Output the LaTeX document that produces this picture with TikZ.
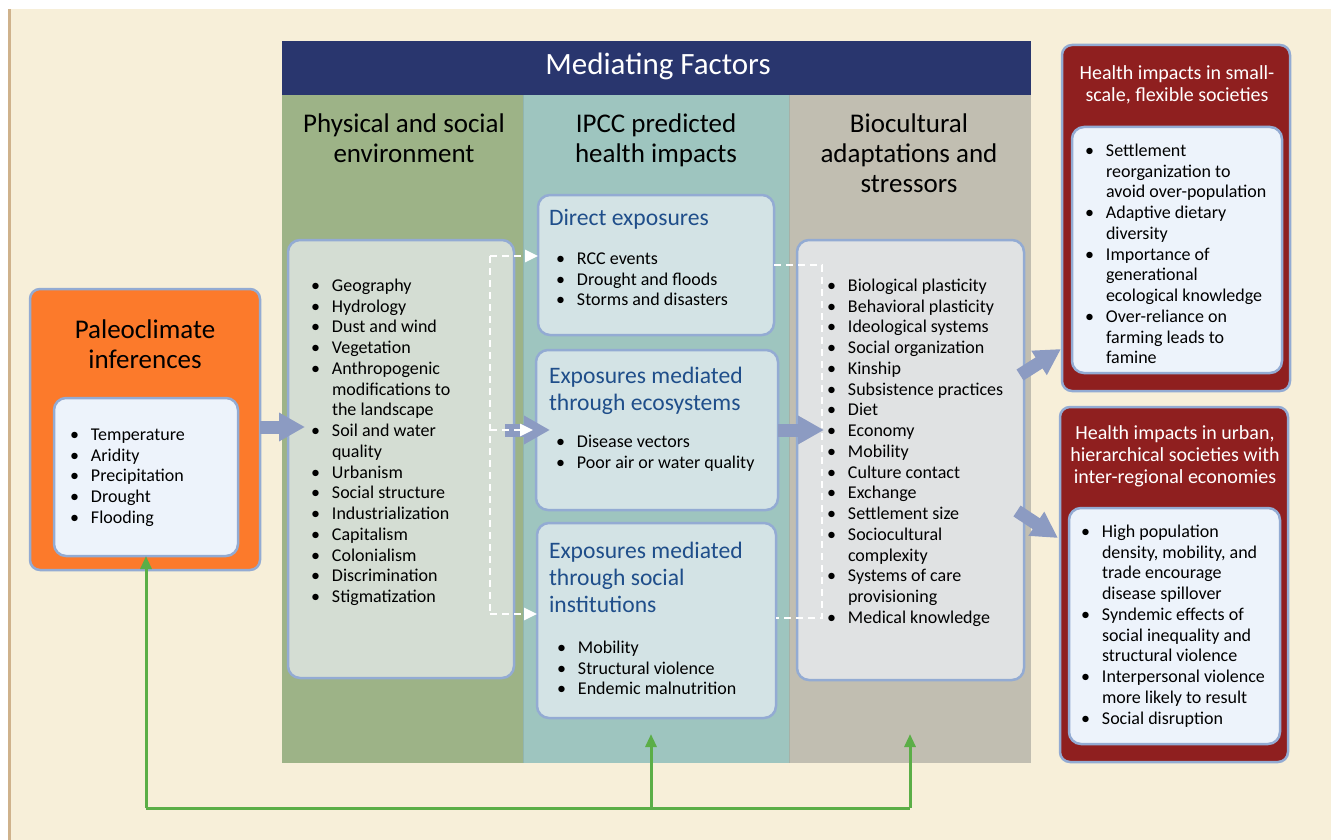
\documentclass[tikz,border=0pt]{standalone}
\usepackage{fontspec}
\setmainfont{Carlito}
\usetikzlibrary{arrows.meta}
\definecolor{bgcream}{HTML}{F7EFD9}
\definecolor{tanline}{HTML}{CFB28C}
\definecolor{navy}{HTML}{29366E}
\definecolor{colgreen}{HTML}{9DB387}
\definecolor{colteal}{HTML}{9EC5BF}
\definecolor{colgray}{HTML}{C1BEB1}
\definecolor{orangebox}{HTML}{FC7A2B}
\definecolor{bordblue}{HTML}{93ABD3}
\definecolor{innerlight}{HTML}{EDF3FB}
\definecolor{greeninner}{HTML}{D4DDD3}
\definecolor{tealinner}{HTML}{D3E3E5}
\definecolor{grayinner}{HTML}{E0E2E3}
\definecolor{titleblue}{HTML}{1F4E8A}
\definecolor{redbox}{HTML}{8F1F1F}
\definecolor{arrowblue}{HTML}{8C9BC2}
\definecolor{greenline}{HTML}{5BAE47}
\newcommand{\fsz}[2]{\fontsize{#1}{#2}\selectfont}
\newcommand{\bl}{\makebox[21pt][l]{\textbullet}}
\newcommand{\cl}{\hspace*{21pt}}
\newcommand{\fst}{\rule{0pt}{1em}}
\tikzset{
  every node/.style={inner sep=0pt, outer sep=0pt},
  colbox/.style={anchor=north west, draw=none},
  rbox/.style={anchor=north west, draw=bordblue, line width=2.5pt, rounded corners=12pt},
  lst/.style={anchor=north west, align=left, font=\fsz{18}{20.75}, text=black},
  hdr/.style={anchor=north, align=center, font=\fsz{27}{30}, text=black},
  bluet/.style={anchor=north west, align=left, font=\fsz{23.6}{27}, text=titleblue},
  redt/.style={anchor=north, align=center, font=\fsz{20}{22}, text=white},
  fatarrow/.style={draw=arrowblue, line width=13pt, -{Triangle[length=26pt,width=27pt]}},
  wdash/.style={draw=white, line width=2.7pt, dash pattern=on 7pt off 5pt},
  wtip/.style={-{Triangle[length=13pt,width=12pt,fill=white]}},
  garrow/.style={draw=greenline, line width=3pt},
  gtip/.style={-{Triangle[length=13pt,width=11pt]}}
}
\begin{document}
\begin{tikzpicture}[x=1pt,y=-1pt]
\useasboundingbox (0,0) rectangle (1331,840);
\fill[white] (0,0) rectangle (1331,840);
\fill[bgcream] (10,9) rectangle (1331,840);
\fill[tanline] (8,9) rectangle (10.5,840);

% columns
\node[colbox, fill=colgreen, minimum width=241, minimum height=668] (colA) at (282,95) {};
\node[colbox, fill=colteal, minimum width=266, minimum height=668] (colB) at (523,95) {};
\node[colbox, fill=colgray, minimum width=242, minimum height=668] (colC) at (789,95) {};
\draw[draw=colteal!80!black, line width=0.6pt, opacity=0.4] (colB.north west) -- (colB.south west);
\draw[draw=colteal!80!black, line width=0.6pt, opacity=0.4] (colC.north west) -- (colC.south west);
\node[colbox, fill=navy, minimum width=749, minimum height=54] (med) at (282,41) {};
\node[anchor=north, font=\fsz{31}{33}, text=white] (medt) at (658,44) {\fst Mediating Factors};

% column headers
\node[hdr] (hA) at (404,106) {\fst Physical and social\\environment};
\node[hdr] (hB) at (656,106) {\fst IPCC predicted\\health impacts};
\node[hdr] (hC) at (909,106) {\fst Biocultural\\adaptations and\\stressors};

% paleoclimate
\node[rbox, fill=orangebox, rounded corners=10pt, minimum width=230, minimum height=281] (paleo) at (30,289) {};
\node[hdr] (paleot) at (145,311) {\fst Paleoclimate\\inferences};
\node[rbox, fill=innerlight, minimum width=184, minimum height=158] (palin) at (54,398) {};
\node[lst] (pall) at (70,422.3) {\fst\bl Temperature\\\bl Aridity\\\bl Precipitation\\\bl Drought\\\bl Flooding};

% physical and social environment
\node[rbox, fill=greeninner, minimum width=226, minimum height=438] (envbox) at (288,240) {};
\node[lst] (envl) at (311,273.3) {\fst\bl Geography\\\bl Hydrology\\\bl Dust and wind\\\bl Vegetation\\\bl Anthropogenic\\\cl modifications to\\\cl the landscape\\\bl Soil and water\\\cl quality\\\bl Urbanism\\\bl Social structure\\\bl Industrialization\\\bl Capitalism\\\bl Colonialism\\\bl Discrimination\\\bl Stigmatization};

% IPCC boxes
\node[rbox, fill=tealinner, minimum width=236, minimum height=140] (direct) at (538,195) {};
\node[bluet] (directt) at (549,202) {\fst Direct exposures};
\node[lst] (directl) at (556,246.3) {\fst\bl RCC events\\\bl Drought and floods\\\bl Storms and disasters};

\node[rbox, fill=tealinner, minimum width=242, minimum height=160] (eco) at (536,350) {};
\node[bluet] (ecot) at (549,360) {\fst Exposures mediated\\through ecosystems};
\node[lst] (ecol) at (556,429.3) {\fst\bl Disease vectors\\\bl Poor air or water quality};

\node[rbox, fill=tealinner, minimum width=239, minimum height=195] (soc) at (537,523) {};
\node[bluet] (soct) at (549,535) {\fst Exposures mediated\\through social\\institutions};
\node[lst] (socl) at (557,635.3) {\fst\bl Mobility\\\bl Structural violence\\\bl Endemic malnutrition};

% biocultural
\node[rbox, fill=grayinner, minimum width=227, minimum height=440] (bio) at (797,240) {};
\node[lst] (biol) at (827,273.3) {\fst\bl Biological plasticity\\\bl Behavioral plasticity\\\bl Ideological systems\\\bl Social organization\\\bl Kinship\\\bl Subsistence practices\\\bl Diet\\\bl Economy\\\bl Mobility\\\bl Culture contact\\\bl Exchange\\\bl Settlement size\\\bl Sociocultural\\\cl complexity\\\bl Systems of care\\\cl provisioning\\\bl Medical knowledge};

% red boxes
\node[rbox, fill=redbox, rounded corners=10pt, minimum width=228, minimum height=346] (small) at (1062,45) {};
\node[redt] (smallt) at (1177,60) {\fst Health impacts in small-\\scale, flexible societies};
\node[rbox, fill=innerlight, minimum width=210, minimum height=246] (smallin) at (1072,127) {};
\node[lst] (smalll) at (1085,138.3) {\fst\bl Settlement\\\cl reorganization to\\\cl avoid over-population\\\bl Adaptive dietary\\\cl diversity\\\bl Importance of\\\cl generational\\\cl ecological knowledge\\\bl Over-reliance on\\\cl farming leads to\\\cl famine};

\node[rbox, fill=redbox, rounded corners=10pt, minimum width=228, minimum height=355] (urban) at (1060,407) {};
\node[redt] (urbant) at (1175,419) {\fst Health impacts in urban,\\hierarchical societies with\\inter-regional economies};
\node[rbox, fill=innerlight, minimum width=211, minimum height=236] (urbanin) at (1069,508) {};
\node[lst] (urbanl) at (1081,519.3) {\fst\bl High population\\\cl density, mobility, and\\\cl trade encourage\\\cl disease spillover\\\bl Syndemic effects of\\\cl social inequality and\\\cl structural violence\\\bl Interpersonal violence\\\cl more likely to result\\\bl Social disruption};

% block arrows
\draw[fatarrow] (paleo.east |- 0,427) -- (305,427);
\draw[fatarrow] (505,430) -- (eco.west |- 0,430) -- ++(14,0);
\draw[fatarrow] (eco.east |- 0,430) -- (824,430);
\coordinate (d1s) at (1020,375);
\coordinate (d1e) at (1061,349);
\draw[fatarrow] (d1s) -- (d1e);
\coordinate (d2s) at (1017,511);
\coordinate (d2e) at (1058,538);
\draw[fatarrow] (d2s) -- (d2e);

% white dashed connectors
\coordinate (lv1) at (490,256);
\coordinate (lv2) at (490,614);
\draw[wdash] (lv1) -- (lv2);
\draw[wdash, wtip] (lv1) -- (direct.west |- lv1);
\draw[wdash, wtip] (lv2) -- (soc.west |- lv2);
\draw[wdash, wtip] (490,430) -- (533,430);
\coordinate (rv1) at (822,265);
\coordinate (rv2) at (822,618);
\draw[wdash] (direct.east |- rv1) -- (rv1) -- (rv2) -- (soc.east |- rv2);

% green feedback arrows
\coordinate (g0) at (146,808);
\coordinate (g1) at (651,808);
\coordinate (g2) at (910,808);
\draw[garrow] (g0) -- (g2);
\draw[garrow, gtip] (g0) -- (palin.south -| g0);
\draw[garrow, gtip] (g1) -- (651,734);
\draw[garrow, gtip] (g2) -- (910,734);
\end{tikzpicture}
\end{document}
